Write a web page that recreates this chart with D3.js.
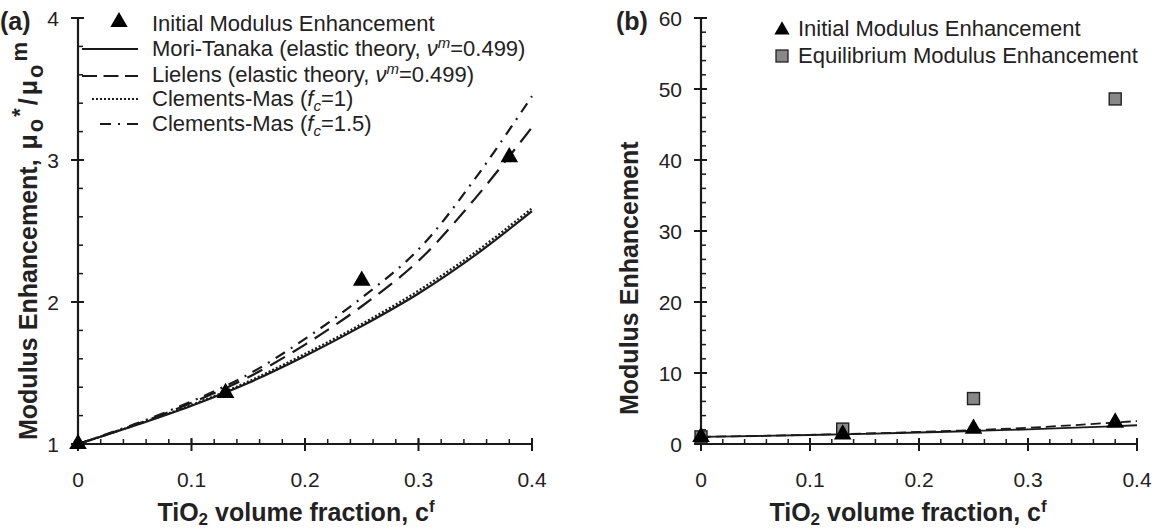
<!DOCTYPE html>
<html><head><meta charset="utf-8">
<script src="https://cdn.jsdelivr.net/npm/d3@7"></script>
<style>
body{margin:0;background:#fff;}
svg{font-family:"Liberation Sans",Arial,sans-serif;}
</style></head><body>
<svg id="c" width="1160" height="532"></svg>
<script>
// ---- data ----
const cGrid = [0, 0.05, 0.1, 0.15, 0.2, 0.25, 0.3, 0.35, 0.4];
const moriTanaka   = [1, 1.13, 1.27, 1.43, 1.62, 1.83, 2.06, 2.33, 2.64];
const lielens      = [1, 1.135, 1.29, 1.47, 1.70, 1.97, 2.29, 2.73, 3.23];
const clementsFc1  = [1, 1.132, 1.275, 1.44, 1.635, 1.845, 2.08, 2.35, 2.66];
const clementsFc15 = [1, 1.14, 1.30, 1.49, 1.74, 2.03, 2.37, 2.87, 3.45];
const expC = [0, 0.13, 0.25, 0.38];
const initialMod = [1.0, 1.36, 2.15, 3.02];
const equilibriumMod = [1.0, 2.1, 6.4, 48.6];
const xTicks = [0, 0.1, 0.2, 0.3, 0.4];
const yTicksA = [1, 2, 3, 4];
const yTicksB = [0, 10, 20, 30, 40, 50, 60];

const svg = d3.select("#c");
const ink = "#1a1a1a";
const txt = "#222";

function panel(o){
  const g = svg.append("g");
  const x = d3.scaleLinear().domain([0,0.4]).range([o.x0,o.x1]);
  const y = d3.scaleLinear().domain(o.ydom).range([o.y0,o.y1]);
  const xm = d3.range(0,0.4001,0.02);
  g.selectAll(".xm").data(xm).join("line")
    .attr("x1",d=>x(d)).attr("x2",d=>x(d)).attr("y1",o.y0).attr("y2",o.y0-5)
    .attr("stroke",ink).attr("stroke-width",1.5);
  g.selectAll(".xM").data(xTicks).join("line")
    .attr("x1",d=>x(d)).attr("x2",d=>x(d)).attr("y1",o.y0-6).attr("y2",o.y0+7)
    .attr("stroke",ink).attr("stroke-width",2);
  g.selectAll(".xl").data(xTicks).join("text")
    .attr("x",d=>x(d)).attr("y",487).attr("text-anchor","middle")
    .attr("font-size",21).attr("fill",txt).text(d=>d===0?"0":d3.format(".1f")(d));
  const ym = d3.range(o.ydom[0], o.ydom[1]+1e-9, o.ymstep);
  g.selectAll(".ym").data(ym).join("line")
    .attr("x1",o.x0).attr("x2",o.x0+5).attr("y1",d=>y(d)).attr("y2",d=>y(d))
    .attr("stroke",ink).attr("stroke-width",1.5);
  g.selectAll(".yM").data(o.yticks).join("line")
    .attr("x1",o.x0-7).attr("x2",o.x0+6).attr("y1",d=>y(d)).attr("y2",d=>y(d))
    .attr("stroke",ink).attr("stroke-width",2);
  g.selectAll(".yl").data(o.yticks).join("text")
    .attr("x",o.x0-19).attr("y",d=>y(d)+8).attr("text-anchor","end")
    .attr("font-size",21).attr("fill",txt).text(d=>d);
  g.append("line").attr("x1",o.x0).attr("x2",o.x1).attr("y1",o.y0).attr("y2",o.y0)
    .attr("stroke",ink).attr("stroke-width",2.2);
  g.append("line").attr("x1",o.x0).attr("x2",o.x0).attr("y1",o.y0).attr("y2",o.y1)
    .attr("stroke",ink).attr("stroke-width",2.2);
  const xt = g.append("text").attr("x",o.xtC).attr("y",521).attr("text-anchor","middle")
    .attr("font-size",25).attr("font-weight","bold").attr("fill",txt);
  xt.append("tspan").text("TiO");
  xt.append("tspan").attr("dy",4).attr("font-size",17).text("2");
  xt.append("tspan").attr("dy",-4).text(" volume fraction, c");
  xt.append("tspan").attr("dy",-9).attr("font-size",17).text("f");
  g.append("text").attr("x",o.labX).attr("y",30).attr("font-size",25)
    .attr("font-weight","bold").attr("fill",txt).text(o.label);
  return {g,x,y};
}

// ---------- Panel (a) ----------
const A = panel({x0:78,x1:532,y0:444,y1:18,ydom:[1,4],ymstep:0.2,yticks:yTicksA,label:"(a)",labX:0,xtC:296});
const line = d3.line().curve(d3.curveCatmullRom.alpha(0.5));
const seriesA = [
  {v:moriTanaka, dash:null},
  {v:lielens, dash:"17,9"},
  {v:clementsFc1, dash:"2,2"},
  {v:clementsFc15, dash:"11,7,2,7"}
];
seriesA.forEach(s=>{
  A.g.append("path").attr("d",line(cGrid.map((c,i)=>[A.x(c),A.y(s.v[i])])))
    .attr("fill","none").attr("stroke",ink).attr("stroke-width",2.2)
    .attr("stroke-dasharray",s.dash);
});
const tri = d3.symbol().type(d3.symbolTriangle).size(135);
A.g.selectAll(".tri").data(expC).join("path")
  .attr("d",tri).attr("transform",(d,i)=>`translate(${A.x(d)},${A.y(initialMod[i])})`)
  .attr("fill","#000");

// y title a
const yta = svg.append("text").attr("transform","translate(37,440) rotate(-90)")
  .attr("text-anchor","start").attr("font-size",25).attr("font-weight","bold").attr("fill",txt);
yta.append("tspan").text("Modulus Enhancement, ");
yta.append("tspan").attr("dx",3).text("μ");
yta.append("tspan").attr("dy",6).attr("dx",2).attr("font-size",22).text("o");
yta.append("tspan").attr("dy",-16).attr("dx",2).attr("font-size",22).text("*");
yta.append("tspan").attr("dy",10).attr("dx",3).text("/");
yta.append("tspan").attr("dx",3).text("μ");
yta.append("tspan").attr("dy",6).attr("dx",2).attr("font-size",22).text("o");
yta.append("tspan").attr("dy",-16).attr("dx",3).attr("font-size",22).text("m");

// legend a
const legA = svg.append("g").attr("font-size",22).attr("fill",txt);
legA.append("path").attr("d",d3.symbol().type(d3.symbolTriangle).size(130))
  .attr("transform","translate(119,22)").attr("fill","#000");
const legLines = [
  {y:49, x1:82, dash:null},
  {y:76, x1:82, dash:"15,6.5"},
  {y:99, x1:92, dash:"2,2"},
  {y:124, x1:100, dash:"11,7,2,7"}
];
legLines.forEach(r=>{
  legA.append("line").attr("x1",r.x1).attr("x2",138).attr("y1",r.y).attr("y2",r.y)
    .attr("stroke",ink).attr("stroke-width",2.2).attr("stroke-dasharray",r.dash);
});
function legText(g,x,y,parts){
  const t = g.append("text").attr("x",x).attr("y",y);
  parts.forEach(p=>{
    const s = t.append("tspan").text(p.t);
    if(p.it) s.attr("font-style","italic");
    if(p.dy) s.attr("dy",p.dy);
    if(p.fs) s.attr("font-size",p.fs);
  });
}
legText(legA,152,31,[{t:"Initial Modulus Enhancement"}]);
legText(legA,152,56,[{t:"Mori-Tanaka (elastic theory, "},{t:"ν",it:1},{t:"m",it:1,dy:-8,fs:15},{t:"=0.499)",dy:8}]);
legText(legA,152,82,[{t:"Lielens (elastic theory, "},{t:"ν",it:1},{t:"m",it:1,dy:-8,fs:15},{t:"=0.499)",dy:8}]);
legText(legA,152,106,[{t:"Clements-Mas ("},{t:"f",it:1},{t:"c",it:1,dy:5,fs:15},{t:"=1)",dy:-5}]);
legText(legA,152,131,[{t:"Clements-Mas ("},{t:"f",it:1},{t:"c",it:1,dy:5,fs:15},{t:"=1.5)",dy:-5}]);

// ---------- Panel (b) ----------
const B = panel({x0:701,x1:1137,y0:444,y1:18,ydom:[0,60],ymstep:2,yticks:yTicksB,label:"(b)",labX:616,xtC:908});
[{v:moriTanaka,dash:null},{v:lielens,dash:"10,5"}].forEach(s=>{
  B.g.append("path").attr("d",line(cGrid.map((c,i)=>[B.x(c),B.y(s.v[i])])))
    .attr("fill","none").attr("stroke",ink).attr("stroke-width",1.8)
    .attr("stroke-dasharray",s.dash);
});
B.g.selectAll(".sq").data(expC).join("rect")
  .attr("x",d=>B.x(d)-6).attr("y",(d,i)=>B.y(equilibriumMod[i])-6)
  .attr("width",12).attr("height",12).attr("fill","#888").attr("stroke","#222").attr("stroke-width",1.4);
B.g.selectAll(".tri").data(expC).join("path")
  .attr("d",tri).attr("transform",(d,i)=>`translate(${B.x(d)},${B.y(initialMod[i])})`)
  .attr("fill","#000");

svg.append("text").attr("transform","translate(638,415) rotate(-90)")
  .attr("text-anchor","start").attr("font-size",25).attr("font-weight","bold").attr("fill",txt)
  .text("Modulus Enhancement");

const legB = svg.append("g").attr("font-size",22).attr("fill",txt);
legB.append("path").attr("d",d3.symbol().type(d3.symbolTriangle).size(100)).attr("transform","translate(782,30)").attr("fill","#000");
legB.append("rect").attr("x",776).attr("y",50).attr("width",12).attr("height",12)
  .attr("fill","#888").attr("stroke","#222").attr("stroke-width",1.3);
legText(legB,798,36,[{t:"Initial Modulus Enhancement"}]);
legText(legB,798,63,[{t:"Equilibrium Modulus Enhancement"}]);
</script>
</body></html>
